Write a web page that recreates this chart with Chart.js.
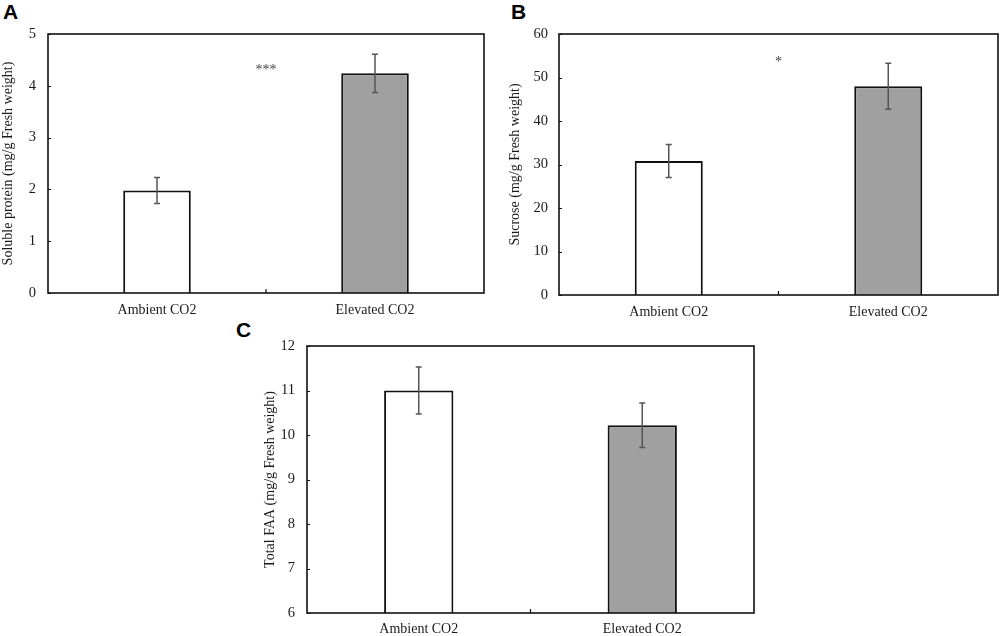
<!DOCTYPE html>
<html>
<head>
<meta charset="utf-8">
<script src="https://cdn.jsdelivr.net/npm/chart.js@4.4.1/dist/chart.umd.min.js"></script>
<style>
  body { margin: 0; background: #fff; width: 1000px; height: 636px; position: relative; overflow: hidden; }
  .panel { position: absolute; }
  .tag { position: absolute; font: bold 21px "Liberation Sans", Arial, sans-serif; color: #000; line-height: 1; }
</style>
</head>
<body>
<div class="tag" style="left:3px;top:1px">A</div>
<div class="tag" style="left:511px;top:1px">B</div>
<div class="tag" style="left:236px;top:319px">C</div>

<div class="panel" style="left:0;top:0;width:500px;height:330px"><canvas id="chartA"></canvas></div>
<div class="panel" style="left:500px;top:0;width:500px;height:330px"><canvas id="chartB"></canvas></div>
<div class="panel" style="left:250px;top:320px;width:520px;height:326px"><canvas id="chartC"></canvas></div>

<script>
// treatments
const groups = ["Ambient CO2", "Elevated CO2"];

// A: soluble protein
const proteinMean = [1.98, 4.24];
const proteinErr = [0.25, 0.37];
// B: sucrose
const sucroseMean = [30.8, 48.0];
const sucroseErr = [3.8, 5.3];
// C: total free amino acids
const faaMean = [11.0, 10.22];
const faaErr = [0.53, 0.5];

// significance marks and the value they sit at
const sigMarks = ["***", "*", ""];
const sigLevel = [4.3, 53.5, null];

const barColors = ["#ffffff", "#a0a0a0"];
const serif = "'Liberation Serif', 'Times New Roman', serif";

// frame, inward ticks, error bars and stars
const extras = {
  id: "extras",
  afterDatasetsDraw(chart, args, opts) {
    const ctx = chart.ctx;
    const a = chart.chartArea;
    const x = chart.scales.x, y = chart.scales.y;
    ctx.save();

    // error bars
    ctx.strokeStyle = "#555";
    ctx.lineWidth = 1.5;
    opts.means.forEach((m, i) => {
      const px = x.getPixelForValue(i);
      const top = y.getPixelForValue(m + opts.errs[i]);
      const bot = y.getPixelForValue(m - opts.errs[i]);
      ctx.beginPath();
      ctx.moveTo(px, top); ctx.lineTo(px, bot);
      ctx.moveTo(px - 3, top); ctx.lineTo(px + 3, top);
      ctx.moveTo(px - 3, bot); ctx.lineTo(px + 3, bot);
      ctx.stroke();
    });

    // plot frame
    ctx.strokeStyle = "#111";
    ctx.lineWidth = 1.6;
    ctx.strokeRect(a.left, a.top, a.right - a.left, a.bottom - a.top);

    // inward y ticks
    ctx.lineWidth = 1.2;
    ctx.beginPath();
    y.ticks.forEach(t => {
      const py = Math.round(y.getPixelForValue(t.value)) + 0.5;
      ctx.moveTo(a.left, py); ctx.lineTo(a.left + 3, py);
    });
    // category boundary tick
    const mid = (x.getPixelForValue(0) + x.getPixelForValue(1)) / 2;
    ctx.moveTo(mid, a.bottom); ctx.lineTo(mid, a.bottom - 4);
    ctx.stroke();

    // significance stars
    if (opts.mark) {
      ctx.fillStyle = "#444";
      ctx.font = "14px " + serif;
      ctx.textAlign = "center";
      ctx.textBaseline = "middle";
      ctx.fillText(opts.mark, mid, y.getPixelForValue(opts.level));
    }
    ctx.restore();
  }
};

function makePanel(id, means, errs, yMin, yMax, step, yTitle, lay, mark, level) {
  new Chart(document.getElementById(id), {
    type: "bar",
    data: {
      labels: groups,
      datasets: [{
        data: means,
        backgroundColor: barColors,
        borderColor: "#111",
        borderWidth: 2,
        barPercentage: 0.31,
        categoryPercentage: 1
      }]
    },
    options: {
      responsive: true,
      maintainAspectRatio: false,
      animation: false,
      layout: { padding: { top: lay.top, right: lay.right, left: 0, bottom: 10 } },
      plugins: {
        legend: { display: false },
        tooltip: { enabled: false },
        extras: { means: means, errs: errs, mark: mark, level: level }
      },
      scales: {
        x: {
          offset: true,
          grid: { display: false },
          border: { display: false },
          ticks: { color: "#1a1a1a", font: { family: serif, size: 14 }, padding: lay.xPad, maxRotation: 0 },
          afterFit(s) { s.height = lay.xh; }
        },
        y: {
          min: yMin,
          max: yMax,
          grid: { display: false },
          border: { display: false },
          ticks: { stepSize: step, color: "#1a1a1a", font: { family: serif, size: 14.5 }, padding: lay.yPad },
          title: {
            display: true,
            text: yTitle,
            color: "#1a1a1a",
            font: { family: serif, size: 14 },
            padding: { top: lay.tPad, bottom: 0 }
          },
          afterFit(s) { s.width = lay.yw; }
        }
      }
    },
    plugins: [extras]
  });
}

makePanel("chartA", proteinMean, proteinErr, 0, 5, 1,
  "Soluble protein (mg/g Fresh weight)",
  { top: 34, right: 16, yw: 48, xh: 27, xPad: 1, yPad: 4, tPad: 0 }, sigMarks[0], sigLevel[0]);

makePanel("chartB", sucroseMean, sucroseErr, 0, 60, 10,
  "Sucrose (mg/g Fresh weight)",
  { top: 34, right: 2, yw: 59, xh: 25, xPad: 1, yPad: 3, tPad: 7 }, sigMarks[1], sigLevel[1]);

makePanel("chartC", faaMean, faaErr, 6, 12, 1,
  "Total FAA (mg/g Fresh weight)",
  { top: 26, right: 16, yw: 57, xh: 23, xPad: 0, yPad: 4, tPad: 12 }, sigMarks[2], sigLevel[2]);
</script>
</body>
</html>
